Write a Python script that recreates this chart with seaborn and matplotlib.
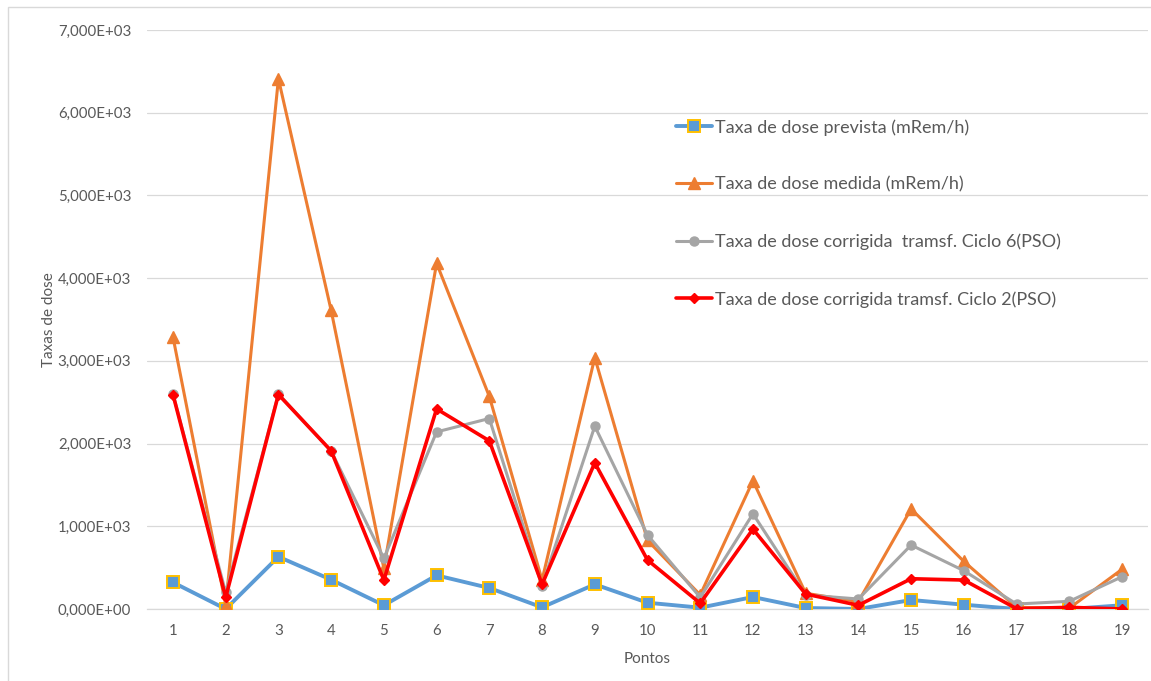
import matplotlib
matplotlib.use("Agg")
import matplotlib.pyplot as plt
import seaborn as sns
import pandas as pd
from matplotlib.patches import Rectangle

# Measurement points along the survey
pontos = list(range(1, 20))

# Dose rates (mRem/h) per point
prevista = [322, 0, 632, 354, 45, 407, 254, 20, 298, 76, 16, 145, 12, 0, 109, 52, 0, 0, 45]
medida = [3290, 50, 6410, 3610, 490, 4180, 2570, 350, 3040, 830, 170, 1550, 190, 90, 1210, 575, 20, 10, 480]
ciclo6 = [2600, 200, 2600, 1910, 612, 2141, 2303, 278, 2210, 895, 140, 1151, 170, 121, 773, 463, 60, 93, 390]
ciclo2 = [2593, 141, 2593, 1912, 350, 2419, 2033, 298, 1767, 592, 69, 966, 181, 45, 366, 350, 4, 20, 0]

series_names = [
    "Taxa de dose prevista (mRem/h)",
    "Taxa de dose medida (mRem/h)",
    "Taxa de dose corrigida  tramsf. Ciclo 6(PSO)",
    "Taxa de dose corrigida tramsf. Ciclo 2(PSO)",
]
y_ticks = [0, 1000, 2000, 3000, 4000, 5000, 6000, 7000]

sns.set_theme(style="white")
plt.rcParams["font.family"] = ["Lato", "DejaVu Sans"]

W, H = 1151, 681
fig = plt.figure(figsize=(W / 100, H / 100), dpi=100)
ax = fig.add_axes([146.6 / W, (H - 609) / H, (1148.4 - 146.6) / W, (609 - 30) / H])

text_color = "#595959"
grid_color = "#D9D9D9"

# Outer chart frame
fig.patches.append(Rectangle((8 / W, -0.1), 1.2, (H - 7) / H + 0.1,
                             transform=fig.transFigure, fill=False,
                             edgecolor="#D9D9D9", linewidth=1.0, zorder=0))

styles = [
    dict(values=prevista, color="#5B9BD5", marker="s", ms=9, mec="#FFC000", mew=1.4, lw=2.8),
    dict(values=medida, color="#ED7D31", marker="^", ms=8, mec="#ED7D31", mew=1.0, lw=2.2),
    dict(values=ciclo6, color="#A5A5A5", marker="o", ms=6.5, mec="#A5A5A5", mew=1.0, lw=2.2),
    dict(values=ciclo2, color="#FF0000", marker="D", ms=5.5, mec="#FF0000", mew=1.0, lw=2.6),
]

for i, (name, st) in enumerate(zip(series_names, styles)):
    df = pd.DataFrame({"Pontos": pontos, "Taxa": st["values"]})
    sns.lineplot(data=df, x="Pontos", y="Taxa", ax=ax, color=st["color"],
                 marker=st["marker"], markersize=st["ms"], markeredgecolor=st["mec"],
                 markeredgewidth=st["mew"], linewidth=st["lw"], label=name,
                 zorder=3 + i)

ax.set_xlim(0.5, 19.5)
ax.set_ylim(0, 7000)
ax.set_xticks(pontos)
ax.set_xticklabels([str(p) for p in pontos])
ax.set_yticks(y_ticks)
ax.set_yticklabels([("%.3E" % v).replace(".", ",") for v in y_ticks])

ax.yaxis.grid(True, color=grid_color, linewidth=0.9)
ax.xaxis.grid(False)
for side in ["top", "right", "left"]:
    ax.spines[side].set_visible(False)
ax.spines["bottom"].set_color(grid_color)
ax.spines["bottom"].set_linewidth(0.9)
ax.tick_params(axis="both", length=0, labelsize=10.8, labelcolor=text_color)
ax.tick_params(axis="y", pad=11)
ax.tick_params(axis="x", pad=11)

ax.set_xlabel("Pontos", fontsize=11, color=text_color, labelpad=10)
ax.set_ylabel("Taxas de dose", fontsize=11, color=text_color, labelpad=1)

leg = ax.legend(loc="upper left", bbox_to_anchor=(676 / W, (H - 119) / H),
                bbox_transform=fig.transFigure, frameon=False, fontsize=13,
                labelspacing=2.27, handlelength=2.0, handletextpad=0.17,
                borderaxespad=0, borderpad=0)
for t in leg.get_texts():
    t.set_color(text_color)

fig.savefig("out.png", dpi=100)
